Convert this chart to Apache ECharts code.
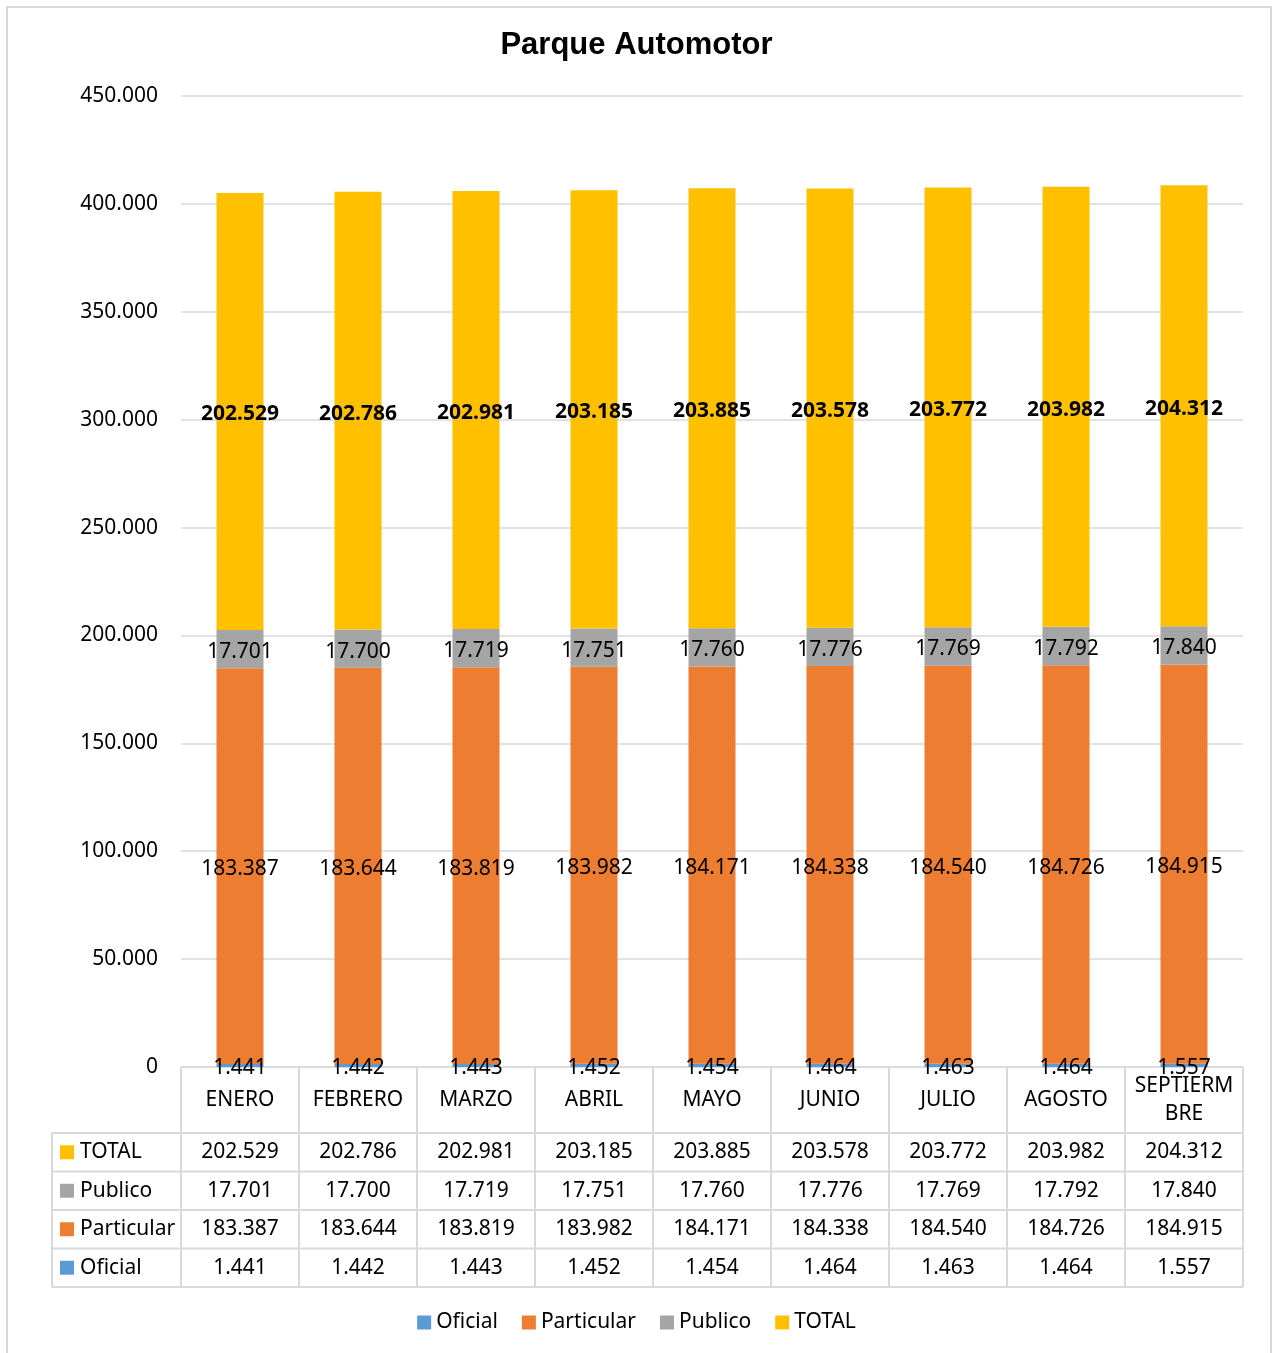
<!DOCTYPE html>
<html>
<head>
<meta charset="utf-8">
<script src="https://cdn.jsdelivr.net/npm/echarts@6/dist/echarts.min.js"></script>
<style>
  html, body { margin: 0; padding: 0; background: #fff; }
  #chart { width: 1273px; height: 1353px; }
</style>
</head>
<body>
<div id="chart"></div>
<script>
// datos
const categories = ['ENERO', 'FEBRERO', 'MARZO', 'ABRIL', 'MAYO', 'JUNIO', 'JULIO', 'AGOSTO', 'SEPTIERMBRE']
const oficial = [1441, 1442, 1443, 1452, 1454, 1464, 1463, 1464, 1557]
const particular = [183387, 183644, 183819, 183982, 184171, 184338, 184540, 184726, 184915]
const publico = [17701, 17700, 17719, 17751, 17760, 17776, 17769, 17792, 17840]
const total = [202529, 202786, 202981, 203185, 203885, 203578, 203772, 203982, 204312]
const yTicks = [0, 50000, 100000, 150000, 200000, 250000, 300000, 350000, 400000, 450000]

const FONT = 'Noto Sans'
const FS = 21
const GRID_LINE = '#d9d9d9'
const seriesDefs = [
  { name: 'Oficial', data: oficial, color: '#5b9bd5', bold: false },
  { name: 'Particular', data: particular, color: '#ed7d31', bold: false },
  { name: 'Publico', data: publico, color: '#a5a5a5', bold: false },
  { name: 'TOTAL', data: total, color: '#ffc000', bold: true }
]

const fmt = v => String(v).replace(/\B(?=(\d{3})+(?!\d))/g, '.')
const wrapCat = v => v.length > 10 ? v.slice(0, 8) + '\n' + v.slice(8) : v

const chart = echarts.init(document.getElementById('chart'))

const option = {
  animation: false,
  backgroundColor: '#fff',
  title: {
    text: 'Parque Automotor',
    left: 'center',
    top: 25,
    textStyle: { fontFamily: 'Liberation Sans', fontSize: 31, fontWeight: 'bold', color: '#000' }
  },
  legend: {
    bottom: 15,
    left: 'center',
    icon: 'rect',
    itemWidth: 14,
    itemHeight: 14,
    itemGap: 24,
    textStyle: { fontFamily: FONT, fontSize: FS, color: '#000' },
    data: seriesDefs.map(s => s.name)
  },
  grid: { left: 181, right: 30, top: 96, bottom: 286 },
  xAxis: {
    type: 'category',
    data: categories,
    axisLine: { show: true, lineStyle: { color: GRID_LINE, width: 1.5 } },
    axisTick: { show: false },
    axisLabel: {
      interval: 0,
      margin: 33,
      verticalAlign: 'middle',
      lineHeight: 28,
      fontFamily: FONT,
      fontSize: FS,
      color: '#000',
      formatter: wrapCat
    }
  },
  yAxis: {
    type: 'value',
    min: 0,
    max: yTicks[yTicks.length - 1],
    interval: yTicks[1] - yTicks[0],
    axisLine: { show: false },
    axisTick: { show: false },
    splitLine: { lineStyle: { color: GRID_LINE, width: 1.5 } },
    axisLabel: {
      margin: 23,
      fontFamily: FONT,
      fontSize: FS,
      color: '#000',
      formatter: v => fmt(v)
    }
  },
  series: seriesDefs.map(s => ({
    name: s.name,
    type: 'bar',
    stack: 'total',
    barWidth: 47,
    data: s.data,
    itemStyle: { color: s.color },
    label: {
      show: true,
      position: 'inside',
      offset: [0, 3],
      fontFamily: FONT,
      fontSize: FS,
      fontWeight: s.bold ? 'bold' : 'normal',
      color: '#000',
      formatter: p => fmt(p.value)
    }
  }))
}

chart.setOption(option)

// tabla de datos debajo del eje
function buildTable() {
  const centers = categories.map((c, i) => chart.convertToPixel({ xAxisIndex: 0 }, i))
  const band = centers[1] - centers[0]
  const x0 = centers[0] - band / 2
  const x1 = centers[centers.length - 1] + band / 2
  const axisY = chart.convertToPixel({ yAxisIndex: 0 }, 0)
  const headerBottom = axisY + 66
  const rowH = 38.5
  const leftX = 52
  const rows = seriesDefs.slice().reverse()
  const els = []
  const line = (xa, ya, xb, yb) => els.push({
    type: 'line',
    shape: { x1: xa, y1: ya, x2: xb, y2: yb },
    style: { stroke: GRID_LINE, lineWidth: 2 },
    z: 100
  })

  // borde exterior
  els.push({
    type: 'rect',
    shape: { x: 7, y: 7, width: 1264, height: 1360 },
    style: { fill: null, stroke: GRID_LINE, lineWidth: 2 },
    z: -1
  })

  const tableBottom = headerBottom + rowH * rows.length
  for (let i = 0; i <= categories.length; i++) {
    const x = x0 + band * i
    line(x, axisY, x, tableBottom)
  }
  line(leftX, headerBottom, leftX, tableBottom)
  for (let r = 0; r <= rows.length; r++) {
    const y = headerBottom + rowH * r
    line(leftX, y, x1, y)
  }

  rows.forEach((s, r) => {
    const cy = headerBottom + rowH * r + rowH / 2
    els.push({
      type: 'rect',
      shape: { x: 60, y: cy - 7, width: 14, height: 14 },
      style: { fill: s.color },
      z: 100
    })
    els.push({
      type: 'text',
      x: 80, y: cy,
      style: { text: s.name, fontFamily: FONT, fontSize: FS, fill: '#000', verticalAlign: 'middle', align: 'left' },
      z: 100
    })
    s.data.forEach((v, i) => {
      els.push({
        type: 'text',
        x: centers[i], y: cy,
        style: { text: fmt(v), fontFamily: FONT, fontSize: FS, fill: '#000', verticalAlign: 'middle', align: 'center' },
        z: 100
      })
    })
  })

  chart.setOption({ graphic: els })
}

buildTable()
</script>
</body>
</html>
